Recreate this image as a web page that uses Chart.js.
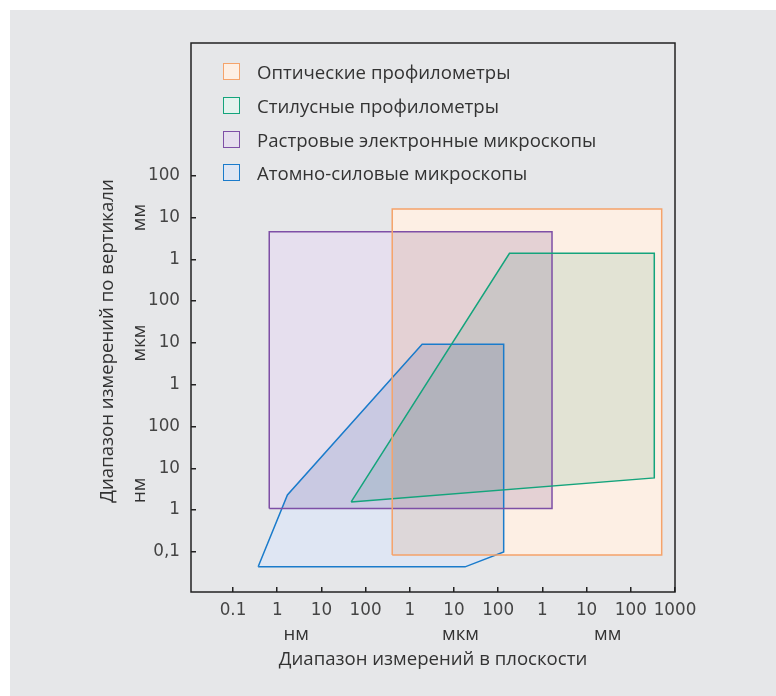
<!DOCTYPE html>
<html>
<head>
<meta charset="utf-8">
<script src="https://cdn.jsdelivr.net/npm/chart.js@4.4.0/dist/chart.umd.min.js"></script>
<style>
  html, body { margin: 0; padding: 0; background: #fff; }
  #panel { position: absolute; left: 10px; top: 10px; width: 766px; height: 686px; background: #e6e7e9; }
  #wrap { position: absolute; left: 0; top: 0; width: 776px; height: 696px; }
  #legend { position: absolute; left: 223px; top: 55px; margin: 0; padding: 0; list-style: none;
            font-family: "Open Sans", sans-serif; font-size: 18.6px; color: #333; }
  #legend li { display: flex; align-items: center; height: 33.7px; white-space: nowrap; }
  #legend .box { width: 15px; height: 15px; border: 1.5px solid; margin-right: 17px; }
</style>
</head>
<body>
<div id="panel"></div>
<div id="wrap"><canvas id="chart" width="776" height="696"></canvas></div>
<ul id="legend"></ul>
<script>
const seriesLabels = [
  "Оптические профилометры",
  "Стилусные профилометры",
  "Растровые электронные микроскопы",
  "Атомно-силовые микроскопы",
];

// polygon vertices, values in nm
const opticalX = [400, 5e8, 5e8, 400, 400];
const opticalY = [0.085, 0.085, 1.6e7, 1.6e7, 0.085];
const stylusX = [47, 1.8e5, 3.4e8, 3.4e8, 47];
const stylusY = [1.57, 1.4e6, 1.4e6, 5.9, 1.57];
const semX = [0.66, 1.65e6, 1.65e6, 0.66, 0.66];
const semY = [1.1, 1.1, 4.6e6, 4.6e6, 1.1];
const afmX = [0.37, 1.7, 1900, 1.33e5, 1.33e5, 1.78e4, 0.37];
const afmY = [0.044, 2.3, 9300, 9300, 0.1, 0.044, 0.044];

const xTickValues = [0.1, 1, 10, 100, 1e3, 1e4, 1e5, 1e6, 1e7, 1e8, 1e9];
const xTickLabels = ["0.1", "1", "10", "100", "1", "10", "100", "1", "10", "100", "1000"];
const yTickValues = [0.1, 1, 10, 100, 1e3, 1e4, 1e5, 1e6, 1e7, 1e8];
const yTickLabels = ["0,1", "1", "10", "100", "1", "10", "100", "1", "10", "100"];

const units = ["нм", "мкм", "мм"];
const xTitle = "Диапазон измерений в плоскости";
const yTitle = "Диапазон измерений по вертикали";

const strokeColors = ["#f5a36a", "#14a47c", "#7e4fa6", "#1a7bcb"];
const fillColors = ["#fdefe4", "#e4f3ee", "#e6dfee", "#dfe6f3"];

function toPoints(xs, ys) {
  return xs.map((v, i) => ({ x: v, y: ys[i] }));
}

const shapes = [
  toPoints(opticalX, opticalY),
  toPoints(stylusX, stylusY),
  toPoints(semX, semY),
  toPoints(afmX, afmY),
];

const datasets = shapes.map((pts, i) => ({
  label: seriesLabels[i],
  data: pts,
  showLine: true,
  fill: "shape",
  tension: 0,
  pointRadius: 0,
  borderWidth: 1.5,
  borderColor: strokeColors[i],
  backgroundColor: fillColors[i],
}));

// fills darken each other where they overlap (overprint look),
// filler runs first in beforeDatasetsDraw, then the outlines go on top normally
const multiplyPlugin = {
  id: "multiply",
  beforeDraw(chart) {
    chart.ctx.globalCompositeOperation = "multiply";
  },
  beforeDatasetsDraw(chart) {
    chart.ctx.globalCompositeOperation = "source-over";
  },
};

const textPlugin = {
  id: "axisText",
  afterDraw(chart) {
    const { ctx, chartArea: a, scales } = chart;
    const x = scales.x, y = scales.y;
    ctx.save();
    ctx.strokeStyle = "#222";
    ctx.lineWidth = 1.5;
    ctx.strokeRect(a.left, a.top, a.right - a.left, a.bottom - a.top);

    ctx.fillStyle = "#333";
    ctx.font = '18.6px "Open Sans"';
    ctx.textAlign = "center";
    ctx.textBaseline = "middle";
    const xUnitAt = [2.7, 1.4e4, 3e7];
    units.forEach((u, i) => ctx.fillText(u, x.getPixelForValue(xUnitAt[i]), 635));
    ctx.fillText(xTitle, (a.left + a.right) / 2, 660);

    const yUnitAt = [3, 1e4, 1e7];
    units.forEach((u, i) => {
      ctx.save();
      ctx.translate(140, y.getPixelForValue(yUnitAt[i]));
      ctx.rotate(-Math.PI / 2);
      ctx.fillText(u, 0, 0);
      ctx.restore();
    });
    ctx.translate(108, 341);
    ctx.rotate(-Math.PI / 2);
    ctx.fillText(yTitle, 0, 0);
    ctx.restore();
  },
};

const tickFont = { family: "DejaVu Sans", size: 16.8 };

const options = {
  type: "scatter",
  data: { datasets },
  options: {
    responsive: false,
    animation: false,
    layout: { padding: { top: 43, right: 101, left: 0, bottom: 0 } },
    scales: {
      x: {
        type: "logarithmic",
        min: 0.0112,
        max: 1e9,
        border: { display: false },
        grid: { drawOnChartArea: false, drawTicks: true, tickLength: -5, color: "#222", lineWidth: 1.5 },
        ticks: {
          font: tickFont,
          color: "#444",
          padding: 14,
          maxRotation: 0,
          autoSkip: false,
          callback: (value) => {
            const i = xTickValues.findIndex((v) => Math.abs(Math.log10(v) - Math.log10(value)) < 1e-6);
            return i >= 0 ? xTickLabels[i] : "";
          },
        },
        afterBuildTicks: (scale) => {
          scale.ticks = xTickValues.map((v) => ({ value: v }));
        },
        afterFit: (scale) => {
          scale.height = 104;
        },
      },
      y: {
        type: "logarithmic",
        min: 0.011,
        max: 1.5e11,
        border: { display: false },
        grid: { drawOnChartArea: false, drawTicks: true, tickLength: -5, color: "#222", lineWidth: 1.5 },
        ticks: {
          font: tickFont,
          color: "#444",
          padding: 16,
          autoSkip: false,
          callback: (value) => {
            const i = yTickValues.findIndex((v) => Math.abs(Math.log10(v) - Math.log10(value)) < 1e-6);
            return i >= 0 ? yTickLabels[i] : "";
          },
        },
        afterBuildTicks: (scale) => {
          scale.ticks = yTickValues.map((v) => ({ value: v }));
        },
        afterFit: (scale) => {
          scale.width = 191;
        },
      },
    },
    plugins: {
      legend: { display: false },
      tooltip: { enabled: false },
      filler: { drawTime: "beforeDatasetsDraw" },
    },
  },
  plugins: [multiplyPlugin, textPlugin],
};

const ctx = document.getElementById("chart").getContext("2d");
window.chart = new Chart(ctx, options);

// html legend from the chart datasets
const legendEl = document.getElementById("legend");
chart.data.datasets.forEach((ds) => {
  const li = document.createElement("li");
  const box = document.createElement("span");
  box.className = "box";
  box.style.borderColor = ds.borderColor;
  box.style.background = ds.backgroundColor;
  li.appendChild(box);
  li.appendChild(document.createTextNode(ds.label));
  legendEl.appendChild(li);
});
</script>
</body>
</html>
